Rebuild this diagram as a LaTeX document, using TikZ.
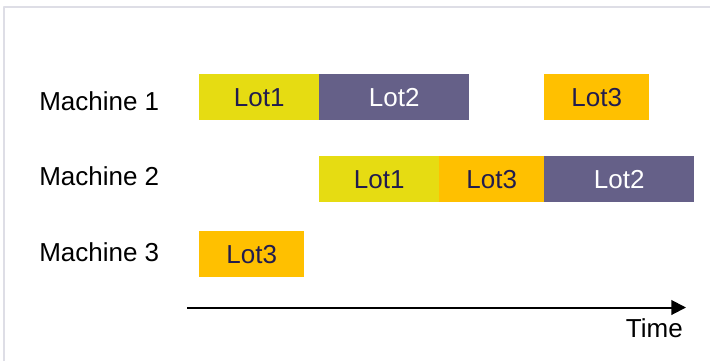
\documentclass[tikz,border=0pt]{standalone}
\usepackage{fontspec}
\setmainfont{Liberation Sans}
\usetikzlibrary{arrows.meta}
\definecolor{lotyellow}{HTML}{E6DC12}
\definecolor{lotorange}{HTML}{FFC000}
\definecolor{lotpurple}{HTML}{656088}
\definecolor{lotnavy}{HTML}{211C4E}
\definecolor{framegray}{HTML}{DEDEE6}
\begin{document}
\begin{tikzpicture}[x=0.75pt,y=-0.75pt,line join=round,>={Triangle[length=11pt,width=11pt]},
		font=\fontsize{19.5}{22}\selectfont,
		lot/.style={anchor=north west,inner sep=0pt,minimum height=34.5pt,text=lotnavy},
		lotA/.style={lot,fill=lotyellow,minimum width=90pt},
		lotB/.style={lot,fill=lotpurple,minimum width=112.5pt,text=white},
		lotC/.style={lot,fill=lotorange,minimum width=78.75pt},
		machine/.style={anchor=base west,inner sep=0pt}]
	\useasboundingbox (0,0) rectangle (710,361);
	\draw[framegray,line width=1.5pt] (4,361)--(4,6.5)--(710,6.5);
	% machine names
	\node[machine] (m1) at (39,110) {Machine 1};
	\node[machine] (m2) at (39,185) {Machine 2};
	\node[machine] (m3) at (39,261) {Machine 3};
	% machine 1
	\node[lotA] (a1) at (199,74) {Lot1};
	\node[lotB] (b1) at (319,74) {Lot2};
	\node[lotC] (c1) at (544,74) {Lot3};
	% machine 2
	\node[lotA] (a2) at (319,156) {Lot1};
	\node[lotC] (c2) at (439,156) {Lot3};
	\node[lotB] (b2) at (544,156) {Lot2};
	% machine 3
	\node[lotC] (c3) at (199,231) {Lot3};
	% time axis
	\coordinate (t0) at (187,307.5);
	\coordinate (t1) at (686,307.5);
	\draw[->,line width=1.5pt] (t0)--(t1);
	\node[anchor=base east,inner sep=0pt] (time) at (683,337) {Time};
\end{tikzpicture}
\end{document}
